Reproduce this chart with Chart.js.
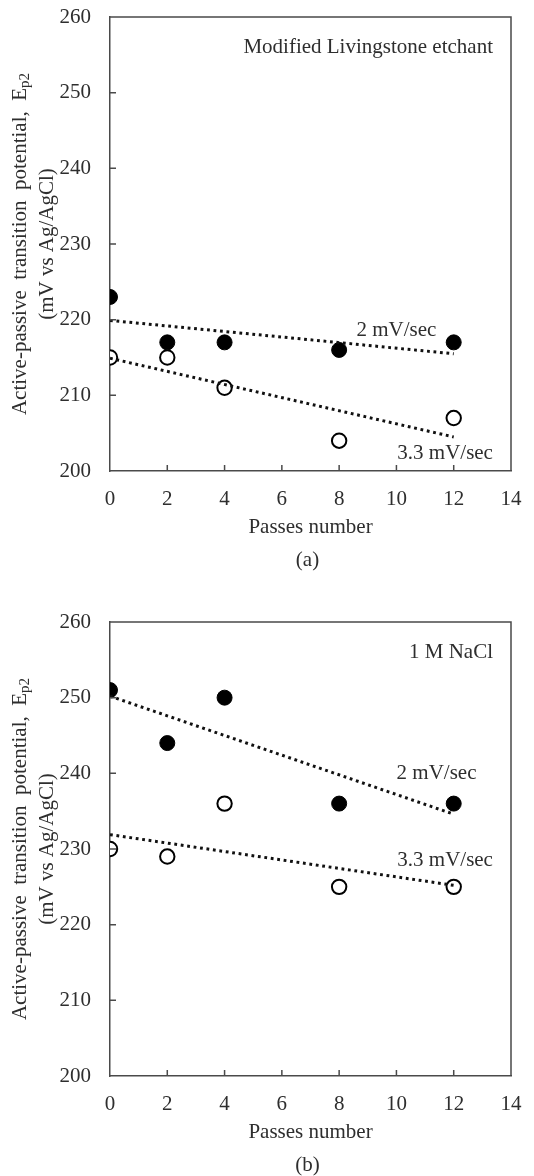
<!DOCTYPE html>
<html>
<head>
<meta charset="utf-8">
<script src="https://cdn.jsdelivr.net/npm/chart.js@4"></script>
<style>
  body { margin: 0; background: #fff; }
  canvas { display: block; }
</style>
</head>
<body>
<canvas id="chartA" width="534" height="590"></canvas>
<canvas id="chartB" width="534" height="586"></canvas>
<script>
// passes and measured Ep2 values (mV vs Ag/AgCl)
const passes = [0, 2, 4, 8, 12];
const etchant2 = [223, 217, 217, 216, 217];
const etchant33 = [215, 215, 211, 204, 207];
const nacl2 = [251, 244, 250, 236, 236];
const nacl33 = [230, 229, 236, 225, 225];

// linear trend lines, value at first and last pass
const trendX = [0, 12];
const etchantTrend2 = [219.9, 215.5];
const etchantTrend33 = [214.9, 204.5];
const naclTrend2 = [250.2, 234.6];
const naclTrend33 = [231.9, 225.2];

// axis ticks
const xTicks = [0, 2, 4, 6, 8, 10, 12, 14];
const yTicks = [200, 210, 220, 230, 240, 250, 260];

const FONT = '"Liberation Serif", "Times New Roman", serif';
const TEXT = '#2e2e2e';
const AXIS = '#4a4a4a';

function points(xs, ys) {
    return xs.map((x, i) => ({ x: x, y: ys[i] }));
}

// frame, inner ticks, titles and line labels
function decorPlugin(opts) {
    return {
        id: 'decor',
        afterDraw(chart) {
            const ctx = chart.ctx;
            const a = chart.chartArea;
            const xs = chart.scales.x, ys = chart.scales.y;
            ctx.save();
            // top and right frame
            ctx.strokeStyle = AXIS;
            ctx.lineWidth = 1.5;
            ctx.beginPath();
            ctx.moveTo(a.left, a.top);
            ctx.lineTo(a.right, a.top);
            ctx.lineTo(a.right, a.bottom);
            ctx.stroke();
            // inward tick marks
            ctx.beginPath();
            xTicks.slice(1, -1).forEach(v => {
                const px = xs.getPixelForValue(v);
                ctx.moveTo(px, a.bottom);
                ctx.lineTo(px, a.bottom - 6);
            });
            yTicks.slice(1, -1).forEach(v => {
                const py = ys.getPixelForValue(v);
                ctx.moveTo(a.left, py);
                ctx.lineTo(a.left + 6, py);
            });
            ctx.stroke();

            ctx.fillStyle = TEXT;
            ctx.textBaseline = 'middle';
            ctx.font = '21px ' + FONT;

            // x title and panel caption
            const cx = (a.left + a.right) / 2;
            ctx.textAlign = 'center';
            ctx.fillText('Passes number', cx, a.bottom + 56);
            ctx.fillText(opts.caption, cx - 3, a.bottom + 89);

            // condition label
            ctx.textAlign = 'right';
            ctx.fillText(opts.condition, a.right - 18, a.top + 30);

            // scan-rate labels
            ctx.textAlign = 'center';
            opts.rateLabels.forEach(l => {
                ctx.fillText(l.text, xs.getPixelForValue(l.x), ys.getPixelForValue(l.y));
            });

            // y title, two rotated lines
            const cy = (a.top + a.bottom) / 2;
            ctx.translate(20, cy);
            ctx.rotate(-Math.PI / 2);
            const main = 'Active-passive  transition  potential,  E';
            const mainW = ctx.measureText(main).width;
            ctx.font = '15px ' + FONT;
            const subW = ctx.measureText('p2').width;
            const start = -(mainW + subW) / 2;
            ctx.font = '21px ' + FONT;
            ctx.textAlign = 'left';
            ctx.fillText(main, start, 0);
            ctx.font = '15px ' + FONT;
            ctx.fillText('p2', start + mainW, 5);
            ctx.font = '21px ' + FONT;
            ctx.textAlign = 'center';
            ctx.fillText('(mV vs Ag/AgCl)', 0, 27);
            ctx.restore();
        }
    };
}

function trendLine(values) {
    return {
        type: 'line',
        data: points(trendX, values),
        borderColor: '#111',
        borderWidth: 3,
        borderDash: [2.8, 3.7],
        pointRadius: 0,
        order: 0
    };
}

function makePanel(id, p) {
    const ctx = document.getElementById(id).getContext('2d');
    return new Chart(ctx, {
        type: 'scatter',
        data: {
            datasets: [
                trendLine(p.trend2),
                trendLine(p.trend33),
                {
                    label: '2 mV/sec',
                    data: points(passes, p.rate2),
                    backgroundColor: '#000',
                    borderColor: '#000',
                    borderWidth: 1,
                    pointRadius: 7.5,
                    order: 1
                },
                {
                    label: '3.3 mV/sec',
                    data: points(passes, p.rate33),
                    backgroundColor: '#fff',
                    borderColor: '#000',
                    borderWidth: 2,
                    pointRadius: 7.2,
                    order: 1
                }
            ]
        },
        options: {
            responsive: false,
            animation: false,
            layout: { padding: { left: 0, right: 23, top: p.top, bottom: 0 } },
            plugins: {
                legend: { display: false },
                tooltip: { enabled: false }
            },
            scales: {
                x: {
                    type: 'linear',
                    min: xTicks[0],
                    max: xTicks[xTicks.length - 1],
                    grid: { display: false, drawTicks: false },
                    border: { display: true, color: AXIS, width: 1.5 },
                    ticks: {
                        stepSize: 2,
                        padding: 16,
                        color: TEXT,
                        font: { family: FONT, size: 21 }
                    },
                    afterFit(scale) {
                        scale.height = p.xHeight;
                        scale.paddingLeft = 0;
                        scale.paddingRight = 0;
                    }
                },
                y: {
                    type: 'linear',
                    min: yTicks[0],
                    max: yTicks[yTicks.length - 1],
                    grid: { display: false, drawTicks: false },
                    border: { display: true, color: AXIS, width: 1.5 },
                    ticks: {
                        stepSize: 10,
                        padding: 19,
                        color: TEXT,
                        font: { family: FONT, size: 21 }
                    },
                    afterFit(scale) {
                        scale.width = 110;
                        scale.paddingTop = 0;
                        scale.paddingBottom = 0;
                    }
                }
            }
        },
        plugins: [decorPlugin(p)]
    });
}

makePanel('chartA', {
    rate2: etchant2,
    rate33: etchant33,
    trend2: etchantTrend2,
    trend33: etchantTrend33,
    top: 17,
    xHeight: 119,
    caption: '(a)',
    condition: 'Modified Livingstone etchant',
    rateLabels: [
        { text: '2 mV/sec', x: 10.0, y: 218.6 },
        { text: '3.3 mV/sec', x: 11.7, y: 202.3 }
    ]
});

makePanel('chartB', {
    rate2: nacl2,
    rate33: nacl33,
    trend2: naclTrend2,
    trend33: naclTrend33,
    top: 32,
    xHeight: 100,
    caption: '(b)',
    condition: '1 M NaCl',
    rateLabels: [
        { text: '2 mV/sec', x: 11.4, y: 240 },
        { text: '3.3 mV/sec', x: 11.7, y: 228.5 }
    ]
});
</script>
</body>
</html>
